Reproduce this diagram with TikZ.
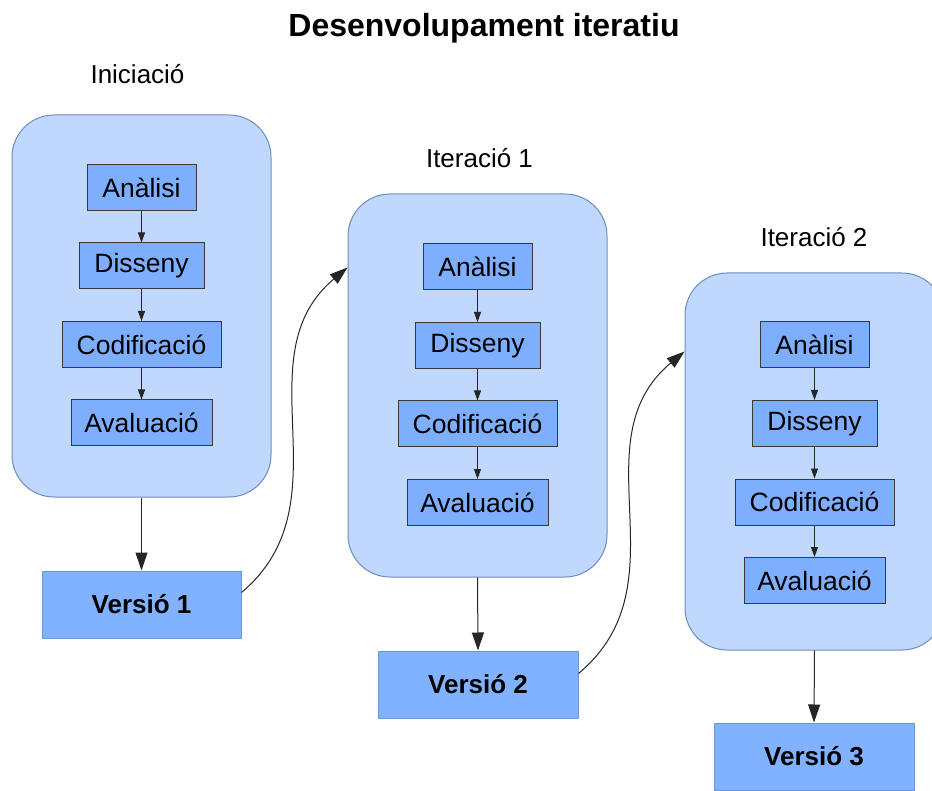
\documentclass[tikz,border=0pt]{standalone}
\usepackage{fontspec}
\setmainfont{Liberation Sans}
\usetikzlibrary{arrows.meta}

\definecolor{stagefill}{HTML}{BFD8FC}
\definecolor{stageline}{HTML}{6C8EBF}
\definecolor{taskfill}{HTML}{7EAFFF}
\definecolor{taskline}{HTML}{3A3A3A}
\definecolor{relfill}{HTML}{80B2FF}
\definecolor{relline}{HTML}{6A98DA}

\tikzset{
  stagebox/.style={draw=stageline, fill=stagefill, line width=1pt,
    rounded corners=42pt, inner sep=0pt},
  taskbox/.style={draw=taskline, fill=taskfill, line width=1pt,
    inner sep=0pt, minimum height=46pt,
    font=\fontsize{26.5}{31}\selectfont},
  relbox/.style={draw=relline, fill=relfill, line width=1pt,
    inner sep=0pt, minimum width=200pt, minimum height=67pt,
    font=\fontsize{26}{31}\selectfont\bfseries},
  stagelabel/.style={anchor=base, inner sep=0pt,
    font=\fontsize{26}{31}\selectfont},
  smallflow/.style={draw=black!85, line width=0.9pt,
    -{Triangle[length=10pt,width=7pt]}},
  bigflow/.style={draw=black!85, line width=1pt,
    -{Triangle[length=18pt,width=12pt]}},
}

\begin{document}
\begin{tikzpicture}[x=1pt, y=-1pt]
  \useasboundingbox (0,0) rectangle (932,791);
  \clip (0,0) rectangle (932,791);

  % title
  \node[anchor=base, inner sep=0pt, font=\fontsize{32}{37}\selectfont\bfseries]
    (title) at (484,37) {Desenvolupament iteratiu};

  % stage frames
  \node[stagebox, minimum width=259pt, minimum height=382pt] (s1) at (141.5,306) {};
  \node[stagebox, minimum width=259pt, minimum height=383pt] (s2) at (477.5,385.5) {};
  \node[stagebox, minimum width=259pt, minimum height=377pt] (s3) at (814.5,461.5) {};

  % stage captions
  \node[stagelabel] (l1) at (137.5,84) {Iniciació};
  \node[stagelabel] (l2) at (479.5,168) {Iteració 1};
  \node[stagelabel] (l3) at (814,247) {Iteració 2};

  % tasks inside each stage
  \foreach \i/\x/\y in {1/141.5/187.5, 2/477.5/267, 3/814.5/345} {
    \node[taskbox, minimum width=109pt] (a\i) at (\x,\y) {Anàlisi};
    \node[taskbox, minimum width=125pt] (d\i) at (\x,\y+78.5) {Disseny};
    \node[taskbox, minimum width=159pt] (c\i) at (\x,\y+157) {Codificació};
    \node[taskbox, minimum width=141pt] (e\i) at (\x,\y+235.5) {Avaluació};
    \draw[smallflow] (a\i) -- (d\i);
    \draw[smallflow] (d\i) -- (c\i);
    \draw[smallflow] (c\i) -- (e\i);
  }

  % releases
  \node[relbox, minimum width=199pt] (v1) at (141.5,604.5) {Versió 1};
  \node[relbox] (v2) at (478,684.5) {Versió 2};
  \node[relbox] (v3) at (814,756.5) {Versió 3};

  \draw[bigflow] (s1.south) -- (v1.north);
  \draw[bigflow] (s2.south) -- (v2.north);
  \draw[bigflow] (s3.south) -- (v3.north);

  % each release feeds the next iteration
  \draw[bigflow] ([yshift=12pt]v1.east) .. controls +(107,-90) and +(-107,90)
    .. ([yshift=-74pt]s2.north west);
  \draw[bigflow] ([yshift=11pt]v2.east) .. controls +(108,-90) and +(-108,90)
    .. ([yshift=-79pt]s3.north west);
\end{tikzpicture}
\end{document}
